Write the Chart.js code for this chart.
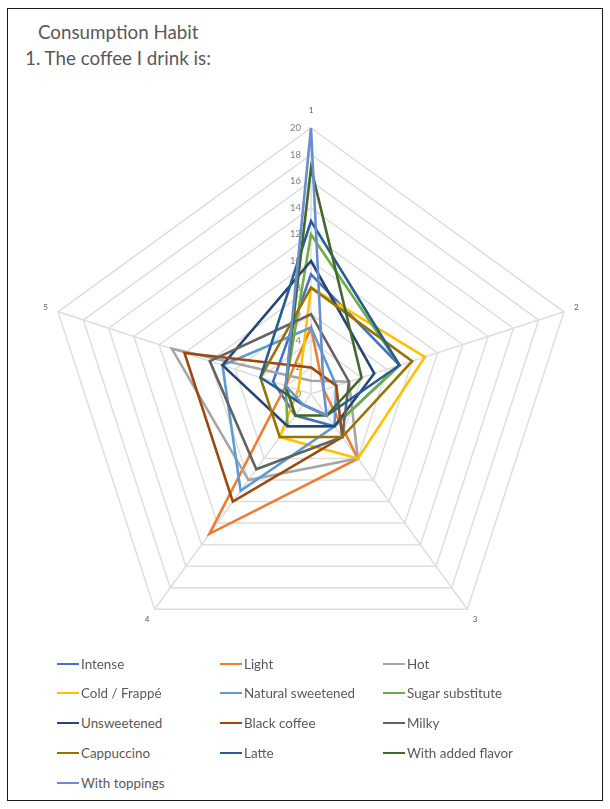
<!DOCTYPE html>
<html>
<head>
<meta charset="utf-8">
<script src="https://cdn.jsdelivr.net/npm/chart.js@4/dist/chart.umd.min.js"></script>
<style>
  html, body { margin: 0; padding: 0; background: #fff; }
  #page { position: relative; width: 610px; height: 809px; overflow: hidden; font-family: Lato, "Open Sans", sans-serif; }
  #frame { position: absolute; left: 7px; top: 8px; width: 596px; height: 793px; border: 1px solid #1a1a1a; box-sizing: border-box; }
  .ttl { position: absolute; color: #595959; font-size: 18.8px; line-height: 22px; white-space: nowrap; }
  #chartBox { position: absolute; left: 0; top: 90px; width: 610px; height: 580px; }
  .lg { position: absolute; height: 18px; display: flex; align-items: center; color: #595959; font-size: 13.4px; white-space: nowrap; }
  .lg i { display: inline-block; width: 22px; height: 2.5px; margin-right: 2px; }
</style>
</head>
<body>
<div id="page">
  <div id="frame"></div>
  <div class="ttl" style="left:38px; top:21px;">Consumption Habit</div>
  <div class="ttl" style="left:25px; top:47px;">1. The coffee I drink is:</div>
  <div id="chartBox"><canvas id="c" width="610" height="580"></canvas></div>
  <div id="legend"></div>
</div>
<script>
// Radar axes and radial tick values
const axisLabels = ['1', '2', '3', '4', '5'];
const tickValues = [0, 2, 4, 6, 8, 10, 12, 14, 16, 18, 20];

// Series names and colours
const seriesNames = [
  'Intense', 'Light', 'Hot', 'Cold / Frappé', 'Natural sweetened', 'Sugar substitute',
  'Unsweetened', 'Black coffee', 'Milky', 'Cappuccino', 'Latte', 'With added flavor', 'With toppings'
];
const seriesColors = [
  '#4472C4', '#ED7D31', '#A5A5A5', '#FFC000', '#5B9BD5', '#70AD47',
  '#264478', '#9E480E', '#636363', '#997300', '#255E91', '#43682B', '#698ED0'
];

// Answers per axis (1..5) for each series
const intense          = [9, 7, 3, 2, 3];
const light            = [5, 1, 6, 13, 2];
const hot              = [1, 3, 6, 8, 11];
const coldFrappe       = [8, 9, 6, 4, 1];
const naturalSweetened = [5, 2, 3, 9, 7];
const sugarSubstitute  = [12, 7, 3, 3, 2];
const unsweetened      = [10, 5, 3, 3, 7];
const blackCoffee      = [2, 2, 4, 10, 10];
const milky            = [6, 3, 4, 7, 8];
const cappuccino       = [8, 8, 4, 4, 4];
const latte            = [13, 7, 2, 1, 4];
const withAddedFlavor  = [17, 4, 2, 2, 2];
const withToppings     = [20, 1, 2, 1, 2];

const seriesValues = [
  intense, light, hot, coldFrappe, naturalSweetened, sugarSubstitute,
  unsweetened, blackCoffee, milky, cappuccino, latte, withAddedFlavor, withToppings
];

const datasets = seriesNames.map((name, i) => ({
  label: name,
  data: seriesValues[i],
  borderColor: seriesColors[i],
  backgroundColor: seriesColors[i],
  borderWidth: 2.6,
  fill: false,
  pointRadius: 0,
  pointHoverRadius: 0,
  tension: 0,
  order: seriesNames.length - i   // later series drawn on top
}));

// Tick numbers to the left of the first axis, and axis names around the web
const radarText = {
  id: 'radarText',
  beforeDatasetsDraw(chart) {
    const s = chart.scales.r;
    const ctx = chart.ctx;
    ctx.save();
    ctx.fillStyle = '#7f7f7f';
    ctx.font = '9.5px Lato, sans-serif';
    ctx.textAlign = 'right';
    ctx.textBaseline = 'middle';
    tickValues.forEach(v => {
      const d = s.getDistanceFromCenterForValue(v);
      ctx.fillText(String(v), s.xCenter - 10, s.yCenter - d);
    });
    ctx.fillStyle = '#595959';
    ctx.font = '8px Lato, sans-serif';
    ctx.textAlign = 'center';
    axisLabels.forEach((lab, i) => {
      const p = s.getPointPosition(i, s.drawingArea + (i === 0 ? 18 : 13));
      ctx.fillText(lab, p.x, p.y);
    });
    ctx.restore();
  }
};

const chart = new Chart(document.getElementById('c'), {
  type: 'radar',
  data: { labels: axisLabels, datasets },
  options: {
    responsive: false,
    animation: false,
    layout: { padding: { left: 45, right: 33, top: 38, bottom: 10 } },
    plugins: { legend: { display: false }, title: { display: false }, tooltip: { enabled: false } },
    scales: {
      r: {
        min: 0, max: 20,
        ticks: { stepSize: 2, display: false },
        pointLabels: { display: false },
        grid: { color: '#DEDEDE', lineWidth: 1.5 },
        angleLines: { color: '#DEDEDE', lineWidth: 1.5 }
      }
    }
  },
  plugins: [radarText]
});

// Legend in three columns built from the chart's datasets
const legendBox = document.getElementById('legend');
const colX = [57, 220, 383];
const rowY = [655, 684, 714, 744, 774];
chart.data.datasets.forEach((ds, i) => {
  const el = document.createElement('div');
  el.className = 'lg';
  el.style.left = colX[i % 3] + 'px';
  el.style.top = rowY[Math.floor(i / 3)] + 'px';
  const sw = document.createElement('i');
  sw.style.background = ds.borderColor;
  el.appendChild(sw);
  el.appendChild(document.createTextNode(ds.label));
  legendBox.appendChild(el);
});
</script>
</body>
</html>
